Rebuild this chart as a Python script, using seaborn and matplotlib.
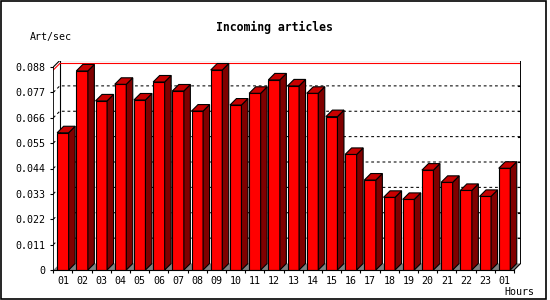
import numpy as np
import pandas as pd
import matplotlib
matplotlib.use("Agg")
import matplotlib.pyplot as plt
from matplotlib.patches import Polygon, Rectangle
import seaborn as sns

# ---- data ----
hours = ["01", "02", "03", "04", "05", "06", "07", "08", "09", "10", "11", "12",
         "13", "14", "15", "16", "17", "18", "19", "20", "21", "22", "23", "01"]
rates = [0.0595, 0.0863, 0.0733, 0.0805, 0.0737, 0.0815, 0.0776, 0.0689,
         0.0867, 0.0715, 0.0766, 0.0824, 0.0798, 0.0766, 0.0665, 0.0501,
         0.0390, 0.0315, 0.0306, 0.0433, 0.0380, 0.0345, 0.0319, 0.0441]
yticks = [0, 0.011, 0.022, 0.033, 0.044, 0.055, 0.066, 0.077, 0.088]
title = "Incoming articles"
ylabel = "Art/sec"
xlabel = "Hours"

# ---- layout (pixels) ----
W, H = 550, 300
axis_x = 53.3
cat_px = 19.2
depth_px = 6.5
base_y = 270.0
top_tick_y = 67.0
ymax = yticks[-1]
n = len(rates)
ypx_per_unit = (base_y - top_tick_y) / ymax
dx = depth_px / cat_px
dy = depth_px / ypx_per_unit

mono = "DejaVu Sans Mono"
fs = 7.2

fig = plt.figure(figsize=(W / 100, H / 100), dpi=100)
fig.patch.set_facecolor("white")
rect = [axis_x / W, (H - base_y) / H,
        (n * cat_px + depth_px) / W,
        (base_y - top_tick_y + depth_px) / H]
ax_back = fig.add_axes(rect, zorder=0)
ax = fig.add_axes(rect, zorder=1)
ax.patch.set_alpha(0)
ax_back.set_facecolor("white")
for a in (ax, ax_back):
    for s in a.spines.values():
        s.set_visible(False)

x_left = -0.5
x_right = n - 0.5

# ---- back layer: floor, wall grid, max line, frame ----
ax_back.add_patch(Polygon([(x_left, 0), (x_right, 0), (x_right + dx, dy), (x_left + dx, dy)],
                          closed=True, facecolor="#808080", edgecolor="none", zorder=1))
for v in yticks[1:-1]:
    ax_back.plot([x_left, x_left + dx, x_right + dx], [v, v + dy, v + dy],
                 color="black", lw=0.75, ls=(0, (2.7, 2.7)), zorder=2)
    ax_back.plot([x_right + dx - 0.13, x_right + dx], [v + dy, v + dy],
                 color="black", lw=0.8, zorder=2)
vmax = max(rates)
ax_back.plot([x_left, x_left + dx, x_right + dx], [vmax, vmax + dy, vmax + dy],
             color="#FF0000", lw=0.8, zorder=3)
ax_back.plot([x_left, x_left, x_left + dx, x_right + dx, x_right + dx, x_right],
             [0, ymax, ymax + dy, ymax + dy, dy, 0],
             color="black", lw=0.8, zorder=4)
ax_back.plot([x_left + dx, x_left + dx], [dy, ymax + dy], color="black", lw=0.8, zorder=2)
ax_back.set_xlim(x_left, x_right + dx)
ax_back.set_ylim(0, ymax + dy)
ax_back.set_xticks([])
ax_back.set_yticks([])

# ---- front layer: bars ----
df = pd.DataFrame({"slot": np.arange(n), "rate": rates})
sns.barplot(data=df, x="slot", y="rate", color="#FF0000", saturation=1,
            width=0.6, edgecolor="black", linewidth=0.8, ax=ax)
bars = [p for p in ax.patches if isinstance(p, Rectangle)]
for p in bars:
    x0 = p.get_x()
    w = p.get_width()
    h = p.get_height()
    x1 = x0 + w
    ax.add_patch(Polygon([(x1, 0), (x1 + dx, dy), (x1 + dx, h + dy), (x1, h)], closed=True,
                         facecolor="#800000", edgecolor="black", lw=0.8))
    ax.add_patch(Polygon([(x0, h), (x1, h), (x1 + dx, h + dy), (x0 + dx, h + dy)], closed=True,
                         facecolor="#C80000", edgecolor="black", lw=0.8))
ax.plot([x_left, x_right], [0, 0], color="black", lw=0.8, clip_on=False)

ax.set_xlim(x_left, x_right + dx)
ax.set_ylim(0, ymax + dy)

# y ticks
ax.set_yticks(yticks)
ax.set_yticklabels(["0" if v == 0 else f"{v:.3f}" for v in yticks],
                   fontfamily=mono, fontsize=fs)
ax.tick_params(axis="y", direction="out", length=2.4, width=0.8, pad=3.4, colors="black")

# x ticks: boundaries as major ticks, labels at centers
ax.set_xticks(np.arange(n + 1) - 0.5)
ax.set_xticklabels([""] * (n + 1))
ax.set_xticks(np.arange(n), minor=True)
ax.set_xticklabels(hours, minor=True, fontfamily=mono, fontsize=fs)
ax.tick_params(axis="x", which="major", direction="out", length=2.4, width=0.8)
ax.tick_params(axis="x", which="minor", length=0, pad=4.2)
ax.set_xlabel("")
ax.set_ylabel("")

# texts
fig.text(274 / W, 1 - 27 / H, title, ha="center", va="center",
         fontfamily=mono, fontweight="bold", fontsize=8.3)
fig.text(30 / W, 1 - 37 / H, ylabel, ha="left", va="center",
         fontfamily=mono, fontsize=fs)
fig.text(519 / W, 1 - 292 / H, xlabel, ha="center", va="center",
         fontfamily=mono, fontsize=fs)

# outer border
fig.add_artist(Rectangle((0.5 / W, 1.5 / H), 545 / W, 297.5 / H, transform=fig.transFigure,
                         fill=False, edgecolor="black", lw=1.2))

fig.savefig("out.png", dpi=100, facecolor="white")
